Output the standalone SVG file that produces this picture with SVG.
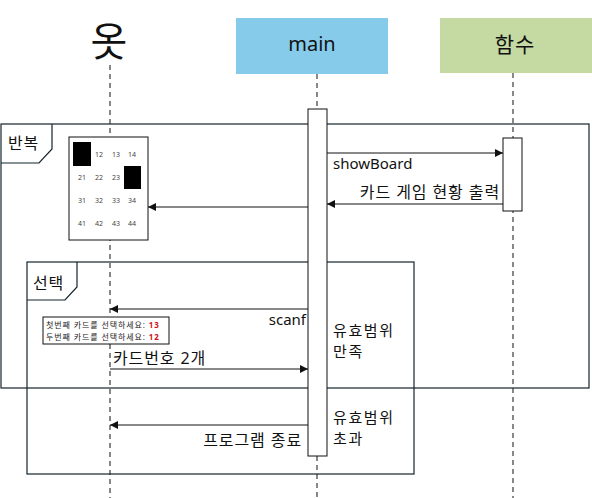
<svg xmlns="http://www.w3.org/2000/svg" width="592" height="498" viewBox="0 0 592 498">
<style>
text{font-family:"Noto Sans","Noto Sans CJK KR",sans-serif;fill:#111}
.life{stroke:#111;stroke-width:1;stroke-dasharray:5,4;fill:none}
.frame{fill:none;stroke:#13242c;stroke-width:1.2}
.act{fill:#fff;stroke:#111;stroke-width:1}
.msg{stroke:#111;stroke-width:1;fill:none;marker-end:url(#ah)}
.lbl{font-size:16px;letter-spacing:0.9px}
.cond{font-size:15px;letter-spacing:1.6px}
.num{font-size:7px;fill:#444}
.small{font-size:8px;fill:#222;letter-spacing:0.9px}
</style>
<defs>
<marker id="ah" viewBox="0 0 10 10" refX="10" refY="5" markerWidth="10" markerHeight="8" markerUnits="userSpaceOnUse" orient="auto">
<path d="M0,0 L10,5 L0,10 z" fill="#111"/>
</marker>
</defs>
<rect width="592" height="498" fill="#fff"/>

<g id="lifelines">
<line class="life" x1="110" y1="65" x2="110" y2="498"/>
<line class="life" x1="317" y1="74" x2="317" y2="109"/>
<line class="life" x1="317" y1="456" x2="317" y2="498"/>
<line class="life" x1="513" y1="73" x2="513" y2="498"/>
</g>

<g id="actor">
<text x="109" y="56" font-size="40" text-anchor="middle">옷</text>
</g>
<g id="main">
<rect x="236" y="18" width="152" height="56" fill="#86CBEA"/>
<text x="312" y="51" font-size="20" text-anchor="middle">main</text>
</g>
<g id="func">
<rect x="440" y="18" width="152" height="55" fill="#C5D9A2"/>
<text x="515" y="52" font-size="21" text-anchor="middle" letter-spacing="1">함수</text>
</g>

<g id="loop">
<rect class="frame" x="1" y="124" width="588" height="264"/>
<path class="frame" d="M1,163 L39,163 L52,149 L52,124"/>
<text x="8" y="149" class="lbl">반복</text>
</g>

<g id="alt">
<rect class="frame" x="27" y="262" width="387" height="212"/>
<path class="frame" d="M27,300 L65,300 L77,287 L77,262"/>
<text x="33" y="289" class="lbl">선택</text>
<text x="333" y="336" class="cond">유효범위</text>
<text x="333" y="357" class="cond">만족</text>
<text x="333" y="423" class="cond">유효범위</text>
<text x="333" y="444" class="cond">초과</text>
</g>

<g id="activations">
<rect class="act" x="308" y="109" width="19" height="347"/>
<rect class="act" x="503" y="138" width="19" height="73"/>
</g>

<g id="board">
<rect x="69" y="137" width="79" height="103" fill="#fff" stroke="#111" stroke-width="1"/>
<rect x="73" y="142" width="18" height="24" fill="#000"/>
<rect x="124" y="166" width="17" height="23" fill="#000"/>
<text class="num" x="99" y="157" text-anchor="middle">12</text>
<text class="num" x="116" y="157" text-anchor="middle">13</text>
<text class="num" x="132" y="157" text-anchor="middle">14</text>
<text class="num" x="82" y="180" text-anchor="middle">21</text>
<text class="num" x="99" y="180" text-anchor="middle">22</text>
<text class="num" x="116" y="180" text-anchor="middle">23</text>
<text class="num" x="82" y="203" text-anchor="middle">31</text>
<text class="num" x="99" y="203" text-anchor="middle">32</text>
<text class="num" x="116" y="203" text-anchor="middle">33</text>
<text class="num" x="132" y="203" text-anchor="middle">34</text>
<text class="num" x="82" y="226" text-anchor="middle">41</text>
<text class="num" x="99" y="226" text-anchor="middle">42</text>
<text class="num" x="116" y="226" text-anchor="middle">43</text>
<text class="num" x="132" y="226" text-anchor="middle">44</text>
</g>

<g id="input">
<rect x="43" y="317" width="126" height="27" fill="#fff" stroke="#111" stroke-width="1"/>
<text class="small" x="46" y="328">첫번째 카드를 선택하세요: <tspan fill="#d0121b" font-weight="bold">13</tspan></text>
<text class="small" x="46" y="340">두번째 카드를 선택하세요: <tspan fill="#d0121b" font-weight="bold">12</tspan></text>
</g>

<g id="connectors">
<line class="msg" x1="327" y1="153" x2="503" y2="153"/>
<text x="333" y="169" font-size="15">showBoard</text>
<line class="msg" x1="503" y1="204" x2="327" y2="204"/>
<text x="500" y="198" class="lbl" text-anchor="end">카드 게임 현황 출력</text>
<line class="msg" x1="308" y1="207" x2="148" y2="207"/>
<line class="msg" x1="308" y1="309" x2="110" y2="309"/>
<text x="306" y="325" font-size="15" text-anchor="end">scanf</text>
<line class="msg" x1="110" y1="369" x2="308" y2="369"/>
<text x="113" y="364" class="lbl">카드번호 2개</text>
<line class="msg" x1="308" y1="425" x2="110" y2="425"/>
<text x="302" y="446" class="lbl" text-anchor="end">프로그램 종료</text>
</g>
</svg>
